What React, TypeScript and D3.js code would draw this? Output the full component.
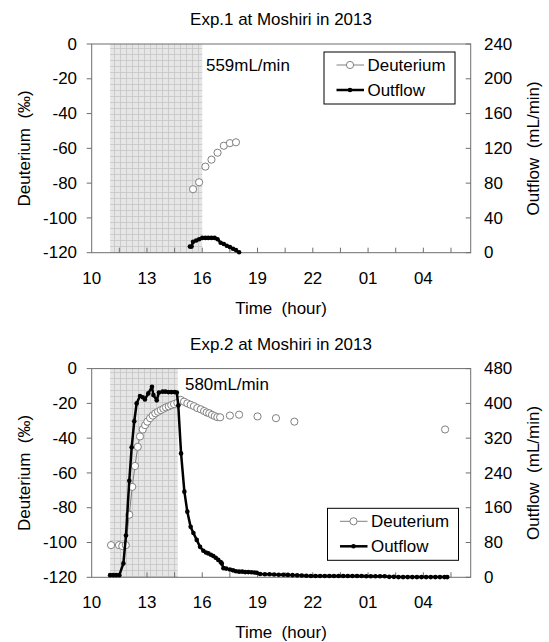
import React from 'react';
import * as d3 from 'd3';

// hours counted from midnight of the first day (25 = 01 next morning)
const minorTickHours = [11.5, 13, 14.5, 16, 17.5, 19, 20.5, 22, 23.5, 25, 26.5, 28, 29.5];
const labelHours = [10, 13, 16, 19, 22, 25, 28];
const labelTexts = ['10', '13', '16', '19', '22', '01', '04'];
const deutTicks = [-120, -100, -80, -60, -40, -20, 0];
const flowTicks1 = [0, 40, 80, 120, 160, 200, 240];
const flowTicks2 = [0, 80, 160, 240, 320, 400, 480];

// Exp.1  [hour, value]
const exp1Deut: [number, number][] = [
  [15.5, -83.5], [15.83, -79.5], [16.17, -70.5], [16.5, -66.5],
  [16.83, -62.5], [17.17, -58.5], [17.5, -57], [17.83, -56.5],
];
const exp1Flow: [number, number][] = [
  [15.33, 7], [15.42, 7], [15.5, 12.5], [15.67, 14], [15.83, 15.5], [16.0, 17],
  [16.17, 17], [16.33, 17], [16.5, 17], [16.67, 17], [16.83, 15.5], [17.0, 11.5],
  [17.17, 10], [17.33, 8], [17.5, 6.5], [17.67, 4.5], [17.83, 3], [18.0, 0.5],
];

// Exp.2  [hour, value]
const exp2Deut: [number, number][] = [
  [11.05, -101.5], [11.48, -101.5], [11.66, -102], [11.85, -101.5], [12.04, -84],
  [12.2, -68], [12.35, -56], [12.5, -45], [12.62, -39], [12.77, -35], [12.9, -32.5],
  [13.02, -30.5], [13.17, -28.5], [13.31, -27], [13.45, -25.7], [13.6, -24.8],
  [13.75, -23.9], [13.89, -23.1], [14.03, -22.3], [14.18, -21.7], [14.32, -21],
  [14.47, -20.4], [14.65, -19.7], [14.83, -18], [15.01, -19], [15.19, -20],
  [15.37, -20.8], [15.55, -21.6], [15.73, -22.7], [15.92, -23.4], [16.1, -24.4],
  [16.24, -25.2], [16.38, -25.7], [16.53, -26.6], [16.68, -27.3], [16.82, -27.9],
  [16.97, -28], [17.5, -27], [18.0, -26.5], [19.0, -27.5], [20.0, -28.5],
  [21.0, -30.5], [29.18, -35],
];
const exp2Flow: [number, number][] = [
  [11.0, 5], [11.17, 5], [11.33, 5], [11.5, 5], [11.72, 32], [11.86, 96], [12.04, 222],
  [12.17, 299], [12.31, 359], [12.44, 400], [12.62, 417], [12.77, 414], [12.89, 409],
  [13.07, 423], [13.27, 438], [13.35, 419], [13.53, 407], [13.65, 425], [13.85, 427],
  [14.0, 427], [14.17, 426], [14.33, 426], [14.5, 426], [14.62, 425], [14.7, 395],
  [14.85, 285], [15.03, 197], [15.19, 151], [15.37, 116], [15.52, 102], [15.7, 86],
  [15.88, 70], [16.06, 61], [16.2, 57], [16.33, 55], [16.47, 52], [16.6, 49],
  [16.73, 45], [16.87, 40], [17.0, 35], [17.06, 32], [17.15, 21], [17.3, 20],
  [17.5, 18], [17.67, 16], [17.83, 14], [18.0, 13], [18.17, 13], [18.33, 12],
  [18.5, 12], [18.67, 11.5], [18.83, 11], [18.96, 10.5], [19.14, 7.5],
  [19.4, 7], [19.65, 7], [19.9, 6.5], [20.15, 6], [20.4, 6], [20.65, 5.5],
  [20.9, 5], [21.15, 4.5], [21.4, 4], [21.65, 3.5], [21.9, 3], [22.15, 3],
  [22.4, 3], [22.65, 3], [22.9, 3], [23.15, 3], [23.4, 3], [23.65, 3],
  [23.9, 3], [24.15, 3], [24.4, 3], [24.65, 3], [24.9, 2.5], [25.15, 2.5],
  [25.4, 2.5], [25.65, 2.5], [25.9, 2.5], [26.15, 1], [26.4, 1], [26.65, 0.5],
  [26.9, 0.5], [27.15, 0.5], [27.4, 0.5], [27.65, 0.5], [27.9, 0.5], [28.15, 0.5],
  [28.4, 0.5], [28.65, 0.5], [28.9, 0.5], [29.15, 0.5], [29.3, 0.5],
];

const FONT = 'Liberation Sans, Arial, sans-serif';
const PLOT_H = 208.7;
const AXIS = '#6e6e6e';
const SX = 1.06; // the original is slightly stretched horizontally

const T = ({ x, y, anchor = 'start', size = 16, children }: any) => (
  <g transform={`translate(${x},${y}) scale(${SX},1)`}>
    <text
      textAnchor={anchor}
      fontSize={size}
      fontFamily={FONT}
      fill="#000"
      style={{ whiteSpace: 'pre' }}
    >
      {children}
    </text>
  </g>
);

type ChartProps = {
  top: number;
  title: string;
  note: string;
  noteX: number;
  noteY: number;
  shadeEnd: number;
  flowMax: number;
  flowTicks: number[];
  deut: [number, number][];
  flow: [number, number][];
  legendX: number;
  legendY: number;
};

function Chart(p: ChartProps) {
  const bottom = p.top + PLOT_H;
  const x = d3.scaleLinear().domain([10, 30.57]).range([91.7, 470.7]);
  const yD = d3.scaleLinear().domain([-120, 0]).range([bottom, p.top]);
  const yF = d3.scaleLinear().domain([0, p.flowMax]).range([bottom, p.top]);
  const [x0, x1] = x.range();

  // deuterium points are only joined where samples are close together
  const segs: [number, number][][] = [];
  let cur: [number, number][] = [p.deut[0]];
  for (let i = 1; i < p.deut.length; i++) {
    if (p.deut[i][0] - p.deut[i - 1][0] < 0.3) cur.push(p.deut[i]);
    else {
      segs.push(cur);
      cur = [p.deut[i]];
    }
  }
  segs.push(cur);

  const dLine = d3.line<[number, number]>().x((d) => x(d[0])).y((d) => yD(d[1]));
  const fLine = d3.line<[number, number]>().x((d) => x(d[0])).y((d) => yF(d[1]));
  const midY = (p.top + bottom) / 2;
  const lx = p.legendX;
  const ly = p.legendY;

  return (
    <g>
      <rect
        x={x(11)}
        y={p.top}
        width={x(p.shadeEnd) - x(11)}
        height={PLOT_H}
        fill="url(#smallgrid)"
      />
      <rect x={x0} y={p.top} width={x1 - x0} height={PLOT_H} fill="none" stroke={AXIS} strokeWidth={1} />

      {minorTickHours.map((h) => (
        <line key={h} x1={x(h)} x2={x(h)} y1={bottom} y2={bottom - 5} stroke={AXIS} />
      ))}
      {deutTicks.map((v) => (
        <line key={v} x1={x0 - 5} x2={x0} y1={yD(v)} y2={yD(v)} stroke={AXIS} />
      ))}
      {p.flowTicks.map((v) => (
        <line key={v} x1={x1 - 5} x2={x1} y1={yF(v)} y2={yF(v)} stroke={AXIS} />
      ))}

      {labelHours.map((h, i) => (
        <T key={h} x={x(h)} y={bottom + 31} anchor="middle">
          {labelTexts[i]}
        </T>
      ))}
      {deutTicks.map((v) => (
        <T key={v} x={77} y={yD(v) + 5.7} anchor="end">
          {String(v)}
        </T>
      ))}
      {p.flowTicks.map((v) => (
        <T key={v} x={484} y={yF(v) + 5.7}>
          {String(v)}
        </T>
      ))}

      <T x={281} y={p.top - 19} anchor="middle">
        {p.title}
      </T>
      <T x={281} y={bottom + 61} anchor="middle">
        {'Time  (hour)'}
      </T>
      <text
        transform={`translate(24.5,${midY}) rotate(-90)`}
        textAnchor="middle"
        dy="0.35em"
        fontSize={17}
        fontFamily={FONT}
        style={{ whiteSpace: 'pre' }}
      >
        {'Deuterium  (‰)'}
      </text>
      <text
        transform={`translate(533,${midY}) rotate(-90)`}
        textAnchor="middle"
        dy="0.35em"
        fontSize={17}
        fontFamily={FONT}
        style={{ whiteSpace: 'pre' }}
      >
        {'Outflow  (mL/min)'}
      </text>

      {segs
        .filter((s) => s.length > 1)
        .map((s, i) => (
          <path key={i} d={dLine(s) || ''} fill="none" stroke="#808080" strokeWidth={1} />
        ))}
      {p.deut.map((d, i) => (
        <circle key={i} cx={x(d[0])} cy={yD(d[1])} r={3.6} fill="#fff" stroke="#808080" strokeWidth={1} />
      ))}
      <path d={fLine(p.flow) || ''} fill="none" stroke="#000" strokeWidth={2.5} strokeLinejoin="round" />
      {p.flow.map((d, i) => (
        <circle key={i} cx={x(d[0])} cy={yF(d[1])} r={2.3} fill="#000" />
      ))}

      <T x={p.noteX} y={p.noteY}>
        {p.note}
      </T>

      <rect x={lx} y={ly} width={131} height={52} fill="#fff" stroke="#000" strokeWidth={1} />
      <line x1={lx + 12.5} x2={lx + 40} y1={ly + 13} y2={ly + 13} stroke="#808080" />
      <circle cx={lx + 26} cy={ly + 13} r={3.6} fill="#fff" stroke="#808080" />
      <T x={lx + 43.5} y={ly + 18.7}>
        Deuterium
      </T>
      <line x1={lx + 12.5} x2={lx + 40} y1={ly + 38} y2={ly + 38} stroke="#000" strokeWidth={2.5} />
      <circle cx={lx + 26} cy={ly + 38} r={2.3} fill="#000" />
      <T x={lx + 43.5} y={ly + 43.7}>
        Outflow
      </T>
    </g>
  );
}

export default function App() {
  return (
    <svg
      width={549}
      height={642}
      style={{ position: 'absolute', left: 0, top: 0, background: '#fff' }}
    >
      <defs>
        <pattern id="smallgrid" width={6} height={6} patternUnits="userSpaceOnUse">
          <rect width={6} height={6} fill="#e6e6e6" />
          <path d="M0 0.5H6M0.5 0V6" stroke="#c2c2c2" strokeWidth={0.7} />
        </pattern>
      </defs>
      <Chart
        top={44}
        title="Exp.1 at Moshiri in 2013"
        note="559mL/min"
        noteX={206}
        noteY={71}
        shadeEnd={16.0}
        flowMax={240}
        flowTicks={flowTicks1}
        deut={exp1Deut}
        flow={exp1Flow}
        legendX={324}
        legendY={52}
      />
      <Chart
        top={368.6}
        title="Exp.2 at Moshiri in 2013"
        note="580mL/min"
        noteX={185}
        noteY={390}
        shadeEnd={14.67}
        flowMax={480}
        flowTicks={flowTicks2}
        deut={exp2Deut}
        flow={exp2Flow}
        legendX={327.5}
        legendY={508.3}
      />
    </svg>
  );
}
